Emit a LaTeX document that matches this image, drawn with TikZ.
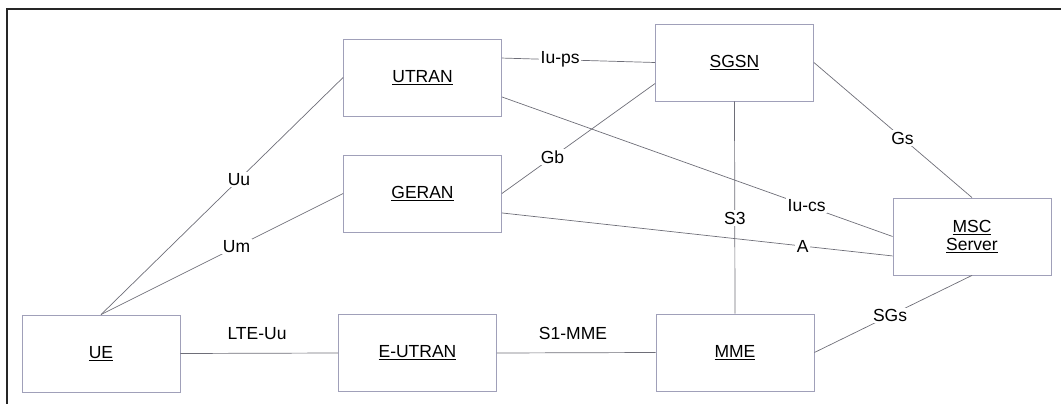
\documentclass[tikz,border=0pt]{standalone}
\usepackage{fontspec}
\setmainfont{Liberation Sans}
\usetikzlibrary{calc}
\definecolor{boxc}{RGB}{160,160,185}
\definecolor{linec}{RGB}{110,110,120}
\tikzset{
  entity/.style={draw=boxc, line width=0.8pt, minimum width=158pt, minimum height=77pt, inner sep=0pt, font=\fontsize{17.5}{20}\selectfont, align=center},
  conn/.style={draw=linec, line width=0.7pt},
  lbl/.style={fill=white, inner sep=1.5pt, font=\fontsize{17.5}{20}\selectfont},
  lblfree/.style={inner sep=1pt, font=\fontsize{17.5}{20}\selectfont},
}
\begin{document}
\begin{tikzpicture}[x=1pt,y=-1pt]
\useasboundingbox (0,0) rectangle (1061,404);
\draw[line width=2.6pt, black!85] (7,404) -- (7,9) -- (1061,9);

\node[entity] (utran) at (422.5,77.5) {\underline{UTRAN}};
\node[entity] (sgsn) at (734.5,62.5) {\underline{SGSN}};
\node[entity] (geran) at (422.5,193.5) {\underline{GERAN}};
\node[entity] (msc) at (972,236.5) {\underline{MSC}\\[-2pt]\underline{Server}};
\node[entity] (ue) at (101,353.5) {\underline{UE}};
\node[entity] (eutran) at (417.5,353) {\underline{E-UTRAN}};
\node[entity] (mme) at (735,352.5) {\underline{MME}};

% UE to UTRAN / GERAN
\draw[conn] (ue.north) -- node[lbl, pos=0.57] (luu) {Uu} (utran.west);
\draw[conn] (ue.north) -- node[lbl, pos=0.56] (lum) {Um} (geran.west);
% UE to E-UTRAN
\draw[conn] (ue.east) -- (eutran.west);
\node[lblfree] (llte) at (257,334) {LTE-Uu};
% E-UTRAN to MME
\draw[conn] (eutran.west -| eutran.east) -- (mme.west);
\node[lblfree] (ls1) at (573,333) {S1-MME};
% UTRAN to SGSN
\draw[conn] ($(utran.north east)!0.25!(utran.south east)$) -- node[lbl, pos=0.38] (liups) {Iu-ps} (sgsn.west);
% UTRAN to MSC
\draw[conn] ($(utran.north east)!0.75!(utran.south east)$) -- node[lbl, pos=0.78] (liucs) {Iu-cs} (msc.west);
% GERAN to SGSN
\draw[conn] (geran.east) -- node[lbl, pos=0.33] (lgb) {Gb} ($(sgsn.north west)!0.77!(sgsn.south west)$);
% GERAN to MSC
\draw[conn] ($(geran.north east)!0.75!(geran.south east)$) -- node[lbl, pos=0.77] (la) {A} ($(msc.north west)!0.75!(msc.south west)$);
% SGSN to MME
\draw[conn] (sgsn.south) -- node[lbl, pos=0.55] (ls3) {S3} (mme.north);
% SGSN to MSC
\draw[conn] (sgsn.east) -- node[lbl, pos=0.56] (lgs) {Gs} (msc.north);
% MME to MSC
\draw[conn] (mme.east) -- node[lbl, pos=0.48] (lsgs) {SGs} (msc.south);
\end{tikzpicture}
\end{document}
